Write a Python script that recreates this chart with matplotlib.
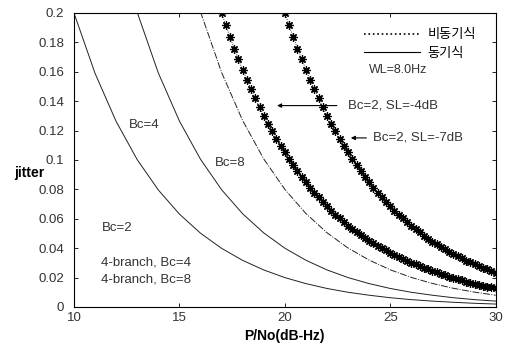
import matplotlib
matplotlib.use("Agg")
import matplotlib.pyplot as plt
from matplotlib.lines import Line2D

plt.rcParams['font.family'] = ['Liberation Sans', 'Noto Sans CJK KR', 'DejaVu Sans']

# coherent (solid) curves, 1 dB steps
x_c1 = [10, 11, 12, 13, 14, 15, 16, 17, 18, 19, 20, 21, 22, 23, 24, 25, 26, 27, 28, 29, 30]
y_c1 = [0.2000, 0.1589, 0.1262, 0.1002, 0.0796, 0.0632, 0.0502, 0.0399, 0.0317, 0.0252,
        0.0200, 0.0159, 0.0126, 0.0100, 0.0080, 0.0063, 0.0050, 0.0040, 0.0032, 0.0025, 0.0020]
x_c2 = [13, 14, 15, 16, 17, 18, 19, 20, 21, 22, 23, 24, 25, 26, 27, 28, 29, 30]
y_c2 = [0.2004, 0.1592, 0.1265, 0.1005, 0.0798, 0.0634, 0.0504, 0.0400, 0.0318, 0.0252,
        0.0200, 0.0159, 0.0126, 0.0100, 0.0080, 0.0063, 0.0050, 0.0040]
x_c3 = [16, 17, 18, 19, 20, 21, 22, 23, 24, 25, 26, 27, 28, 29, 30]
y_c3 = [0.2008, 0.1596, 0.1268, 0.1007, 0.0800, 0.0636, 0.0505, 0.0401, 0.0319, 0.0253,
        0.0201, 0.0160, 0.0127, 0.0101, 0.0080]

# non-coherent (star) curves, 0.2 dB steps
x_n7 = [17.0, 17.2, 17.4, 17.6, 17.8, 18.0, 18.2, 18.4, 18.6, 18.8, 19.0, 19.2, 19.4, 19.6,
        19.8, 20.0, 20.2, 20.4, 20.6, 20.8, 21.0, 21.2, 21.4, 21.6, 21.8, 22.0, 22.2, 22.4,
        22.6, 22.8, 23.0, 23.2, 23.4, 23.6, 23.8, 24.0, 24.2, 24.4, 24.6, 24.8, 25.0, 25.2,
        25.4, 25.6, 25.8, 26.0, 26.2, 26.4, 26.6, 26.8, 27.0, 27.2, 27.4, 27.6, 27.8, 28.0,
        28.2, 28.4, 28.6, 28.8, 29.0, 29.2, 29.4, 29.6, 29.8, 30.0]
y_n7 = [0.2000, 0.1916, 0.1836, 0.1758, 0.1685, 0.1614, 0.1546, 0.1481, 0.1419, 0.1359,
        0.1302, 0.1248, 0.1195, 0.1145, 0.1097, 0.1051, 0.1007, 0.0964, 0.0924, 0.0885,
        0.0848, 0.0812, 0.0778, 0.0745, 0.0714, 0.0684, 0.0655, 0.0628, 0.0602, 0.0576,
        0.0552, 0.0529, 0.0507, 0.0487, 0.0468, 0.0450, 0.0433, 0.0416, 0.0400, 0.0385,
        0.0370, 0.0356, 0.0342, 0.0328, 0.0315, 0.0302, 0.0290, 0.0278, 0.0267, 0.0256,
        0.0245, 0.0235, 0.0225, 0.0215, 0.0206, 0.0197, 0.0189, 0.0181, 0.0173, 0.0166,
        0.0159, 0.0152, 0.0145, 0.0139, 0.0133, 0.0126]
x_n4 = [20.0, 20.2, 20.4, 20.6, 20.8, 21.0, 21.2, 21.4, 21.6, 21.8, 22.0, 22.2, 22.4, 22.6,
        22.8, 23.0, 23.2, 23.4, 23.6, 23.8, 24.0, 24.2, 24.4, 24.6, 24.8, 25.0, 25.2, 25.4,
        25.6, 25.8, 26.0, 26.2, 26.4, 26.6, 26.8, 27.0, 27.2, 27.4, 27.6, 27.8, 28.0, 28.2,
        28.4, 28.6, 28.8, 29.0, 29.2, 29.4, 29.6, 29.8, 30.0]
y_n4 = [0.2000, 0.1916, 0.1836, 0.1758, 0.1685, 0.1614, 0.1546, 0.1481, 0.1419, 0.1359,
        0.1302, 0.1248, 0.1195, 0.1145, 0.1097, 0.1051, 0.1007, 0.0964, 0.0924, 0.0885,
        0.0848, 0.0812, 0.0778, 0.0745, 0.0714, 0.0684, 0.0655, 0.0628, 0.0602, 0.0576,
        0.0552, 0.0529, 0.0507, 0.0485, 0.0465, 0.0445, 0.0427, 0.0409, 0.0392, 0.0375,
        0.0359, 0.0344, 0.0330, 0.0316, 0.0303, 0.0290, 0.0278, 0.0266, 0.0255, 0.0244,
        0.0234]

x_ticks = [10, 15, 20, 25, 30]
y_ticks = [0, 0.02, 0.04, 0.06, 0.08, 0.1, 0.12, 0.14, 0.16, 0.18, 0.2]
y_ticklabels = ['0', '0.02', '0.04', '0.06', '0.08', '0.1', '0.12', '0.14', '0.16', '0.18', '0.2']

fig = plt.figure(figsize=(5.05, 3.44), dpi=100)
ax = fig.add_axes([0.1465, 0.1076, 0.835, 0.8547])

ln = dict(color='#222222', lw=0.7)
ax.plot(x_c1, y_c1, '-', **ln)
ax.plot(x_c2, y_c2, '-', **ln)
ax.plot(x_c3, y_c3, ls=(0, (7, 1.5, 1, 1.5)), **ln)

star = dict(color='black', lw=0.6, ls=':', marker=(8, 2, 0), markersize=6, markeredgewidth=0.9)
ax.plot(x_n7, y_n7, **star)
ax.plot(x_n4, y_n4, **star)

ax.set_xlim(10, 30)
ax.set_ylim(0, 0.2)
ax.set_xticks(x_ticks)
ax.set_yticks(y_ticks)
ax.set_yticklabels(y_ticklabels)
ax.tick_params(direction='in', top=True, right=True, length=3, width=0.6,
               labelsize=9.5, labelcolor='#333333')
ax.tick_params(axis='y', pad=7)
for s in ax.spines.values():
    s.set_linewidth(0.8)

ax.set_xlabel('P/No(dB-Hz)', fontsize=10, fontweight='bold', labelpad=4)
ax.set_ylabel('jitter', fontsize=10, fontweight='bold', rotation=0, va='center', ha='center')
ax.yaxis.set_label_coords(-0.105, 0.456)

handles = [Line2D([], [], color='black', ls=':', lw=1.2),
           Line2D([], [], color='black', ls='-', lw=0.8)]
ax.legend(handles, ['비동기식', '동기식'], frameon=False, loc='upper left',
          bbox_to_anchor=(0.66, 0.985), fontsize=9.5, handlelength=4.2,
          handletextpad=0.6, labelspacing=0.45)

tc = '#333333'
fs = 9.5
ax.text(24.0, 0.161, 'WL=8.0Hz', fontsize=9, color=tc, va='center')
ax.annotate('', xy=(19.5, 0.137), xytext=(22.6, 0.137),
            arrowprops=dict(arrowstyle='-|>', color='black', lw=0.8, mutation_scale=6))
ax.text(23.0, 0.137, 'Bc=2, SL=-4dB', fontsize=fs, color=tc, va='center')
ax.annotate('', xy=(23.0, 0.115), xytext=(24.0, 0.115),
            arrowprops=dict(arrowstyle='-|>', color='black', lw=0.8, mutation_scale=6))
ax.text(24.2, 0.115, 'Bc=2, SL=-7dB', fontsize=fs, color=tc, va='center')

ax.text(12.6, 0.124, 'Bc=4', fontsize=fs, color=tc, va='center')
ax.text(16.7, 0.098, 'Bc=8', fontsize=fs, color=tc, va='center')
ax.text(11.3, 0.054, 'Bc=2', fontsize=fs, color=tc, va='center')
ax.text(11.3, 0.030, '4-branch, Bc=4', fontsize=fs, color=tc, va='center')
ax.text(11.3, 0.019, '4-branch, Bc=8', fontsize=fs, color=tc, va='center')

fig.savefig('out.png', dpi=100)
